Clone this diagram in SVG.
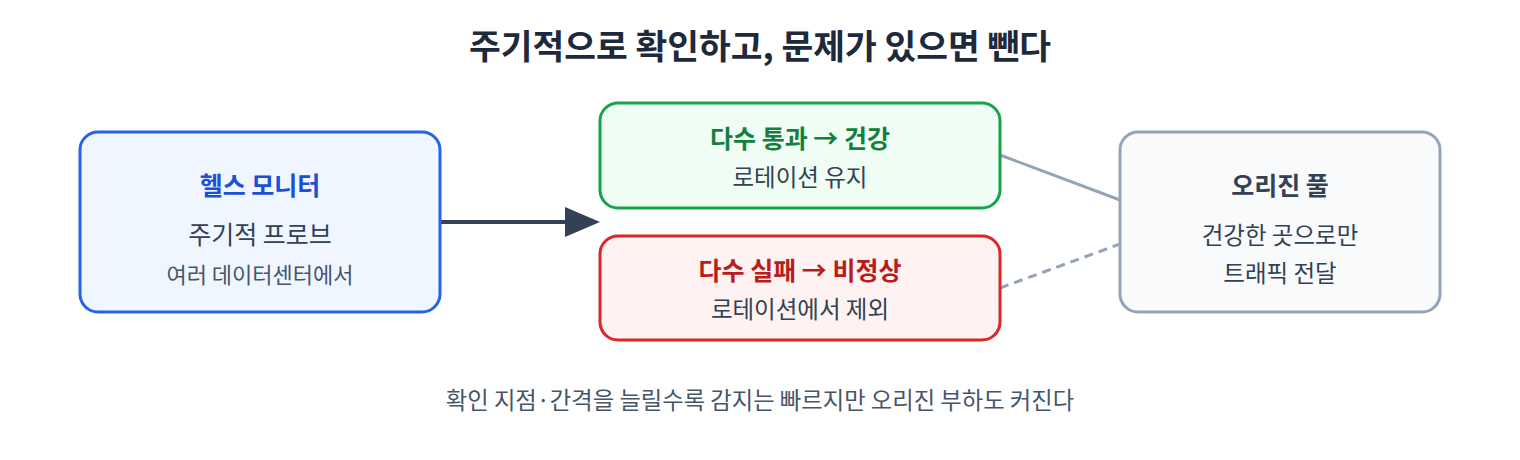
<svg xmlns="http://www.w3.org/2000/svg" width="1520" height="460" viewBox="0 0 1520 460">
<defs>
<style>
text{font-family:"Noto Sans CJK KR","Noto Sans",sans-serif;text-anchor:middle}
.title{font-size:34.5px;font-weight:700;fill:#1e293b}
.h{font-size:25px;font-weight:700}
.s{font-size:25px;fill:#334155}
.t{font-size:22px;fill:#475569}
.d{font-size:23.5px;fill:#334155}
.foot{font-size:23.3px;fill:#475569}
</style>
</defs>
<rect width="1520" height="460" fill="#ffffff"/>
<text class="title" x="760" y="59">주기적으로 확인하고, 문제가 있으면 뺀다</text>
<g id="connectors">
<line x1="440" y1="222" x2="570" y2="222" stroke="#334155" stroke-width="4"/>
<polygon points="565,207 600,222 565,237" fill="#334155"/>
<line x1="1000" y1="155" x2="1120" y2="200" stroke="#94a3b8" stroke-width="3"/>
<line x1="1000" y1="288" x2="1120" y2="244" stroke="#94a3b8" stroke-width="3" stroke-dasharray="9,6"/>
</g>
<g id="monitor">
<rect x="80" y="132" width="360" height="180" rx="18" fill="#eff6ff" stroke="#2563eb" stroke-width="3"/>
<text class="h" x="260" y="195" style="fill:#1d4ed8">헬스 모니터</text>
<text class="s" x="260" y="244">주기적 프로브</text>
<text class="t" x="260" y="283">여러 데이터센터에서</text>
</g>
<g id="healthy">
<rect x="600" y="103" width="400" height="105" rx="18" fill="#f0fdf4" stroke="#16a34a" stroke-width="3"/>
<text class="h" x="800" y="148" style="fill:#15803d">다수 통과 → 건강</text>
<text class="d" x="800" y="186">로테이션 유지</text>
</g>
<g id="unhealthy">
<rect x="600" y="236" width="400" height="104" rx="18" fill="#fef2f2" stroke="#dc2626" stroke-width="3"/>
<text class="h" x="800" y="280" style="fill:#b91c1c">다수 실패 → 비정상</text>
<text class="d" x="800" y="318">로테이션에서 제외</text>
</g>
<g id="origin">
<rect x="1120" y="132" width="320" height="180" rx="18" fill="#f8fafc" stroke="#94a3b8" stroke-width="3"/>
<text class="h" x="1280" y="195" style="fill:#334155">오리진 풀</text>
<text class="d" x="1280" y="244">건강한 곳으로만</text>
<text class="d" x="1280" y="282">트래픽 전달</text>
</g>
<text class="foot" x="760" y="409">확인 지점·간격을 늘릴수록 감지는 빠르지만 오리진 부하도 커진다</text>
</svg>
